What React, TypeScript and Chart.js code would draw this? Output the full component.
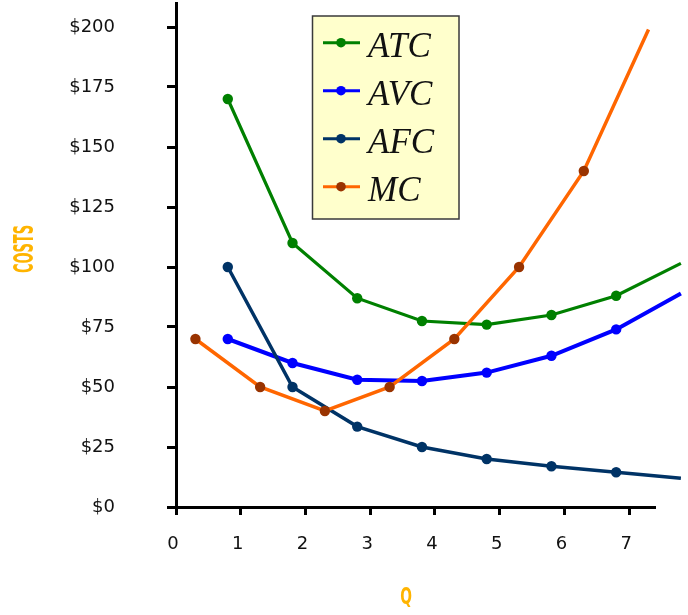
import React, { useEffect, useRef } from 'react';
import { Chart, registerables } from 'chart.js';

Chart.register(...registerables);

// Quantity positions of the average-cost points (last point is the unmarked line end)
const qAvg = [0.8, 1.8, 2.8, 3.8, 4.8, 5.8, 6.8, 7.8];
const atc = [170, 110, 87, 77.5, 76, 80, 88, 101.5];
const avc = [70, 60, 53, 52.5, 56, 63, 74, 89];
const afc = [100, 50, 33.5, 25, 20, 17, 14.5, 12];

// Marginal cost sits between the whole quantities
const qMc = [0.3, 1.3, 2.3, 3.3, 4.3, 5.3, 6.3, 7.3];
const mc = [70, 50, 40, 50, 70, 100, 140, 199];

const seriesNames = ['ATC', 'AVC', 'AFC', 'MC'];
const costTicks = [0, 25, 50, 75, 100, 125, 150, 175, 200];
const qTicks = [0, 1, 2, 3, 4, 5, 6, 7];

const yTitle = 'COSTS';
const xTitle = 'Q';

const TICK_FONT = { family: '"DejaVu Sans", Verdana, sans-serif', size: 18 };

function points(xs: number[], ys: number[]) {
  return xs.map((x, i) => ({ x, y: ys[i] }));
}

function markerRadii(xs: number[]) {
  return xs.map((_, i) => (i === xs.length - 1 ? 0 : 5.2));
}

// Yellow boxed legend with italic serif labels
const boxedLegend = {
  id: 'boxedLegend',
  afterDraw(chart: any) {
    const ctx = chart.ctx as CanvasRenderingContext2D;
    const box = { x: 312.5, y: 16, w: 146.5, h: 203 };
    ctx.save();
    ctx.fillStyle = '#FFFFCC';
    ctx.fillRect(box.x, box.y, box.w, box.h);
    ctx.strokeStyle = '#3a3a3a';
    ctx.lineWidth = 1.5;
    ctx.strokeRect(box.x, box.y, box.w, box.h);

    const datasets = chart.data.datasets;
    seriesNames.forEach((name, i) => {
      const ds = datasets.find((d: any) => d.label === name);
      if (!ds) return;
      const rowY = 42.7 + i * 48;
      ctx.strokeStyle = ds.borderColor;
      ctx.lineWidth = 3;
      ctx.beginPath();
      ctx.moveTo(323, rowY);
      ctx.lineTo(360, rowY);
      ctx.stroke();
      ctx.fillStyle = ds.pointBackgroundColor;
      ctx.beginPath();
      ctx.arc(341, rowY, 4.8, 0, Math.PI * 2);
      ctx.fill();
      ctx.fillStyle = '#111';
      ctx.font = 'italic 35px "Liberation Serif", "Times New Roman", serif';
      ctx.textAlign = 'left';
      ctx.textBaseline = 'alphabetic';
      ctx.fillText(name, 368, rowY + 14);
    });
    ctx.restore();
  },
};

// Condensed bold axis titles
const axisTitles = {
  id: 'axisTitles',
  afterDraw(chart: any) {
    const ctx = chart.ctx as CanvasRenderingContext2D;
    ctx.save();
    ctx.fillStyle = '#FFB400';
    ctx.textAlign = 'center';
    ctx.textBaseline = 'alphabetic';

    ctx.save();
    ctx.translate(23, 249);
    ctx.rotate(-Math.PI / 2);
    ctx.scale(0.48, 1);
    ctx.font = 'bold 27px "DejaVu Sans", sans-serif';
    ctx.fillText(yTitle, 0, 9.8);
    ctx.restore();

    ctx.save();
    ctx.translate(406, 604);
    ctx.scale(0.6, 1);
    ctx.font = 'bold 23px "DejaVu Sans", sans-serif';
    ctx.fillText(xTitle, 0, 0);
    ctx.restore();

    ctx.restore();
  },
};

export default function App() {
  const canvasRef = useRef<HTMLCanvasElement | null>(null);

  useEffect(() => {
    const canvas = canvasRef.current;
    if (!canvas) return;

    const lineDefaults = {
      tension: 0,
      borderWidth: 3.5,
      pointBorderWidth: 0,
      pointHoverRadius: 5,
      clip: false as const,
      fill: false,
    };

    const chart = new Chart(canvas, {
      type: 'line',
      data: {
        datasets: [
          {
            ...lineDefaults,
            label: 'ATC',
            data: points(qAvg, atc),
            borderColor: '#008000',
            backgroundColor: '#008000',
            pointBackgroundColor: '#008000',
            pointBorderColor: '#008000',
            pointRadius: markerRadii(qAvg),
            borderWidth: 3.2,
            order: 4,
          },
          {
            ...lineDefaults,
            label: 'AVC',
            data: points(qAvg, avc),
            borderColor: '#0000FF',
            backgroundColor: '#0000FF',
            pointBackgroundColor: '#0000FF',
            pointBorderColor: '#0000FF',
            pointRadius: markerRadii(qAvg),
            borderWidth: 4,
            order: 3,
          },
          {
            ...lineDefaults,
            label: 'AFC',
            data: points(qAvg, afc),
            borderColor: '#003366',
            backgroundColor: '#003366',
            pointBackgroundColor: '#003366',
            pointBorderColor: '#003366',
            pointRadius: markerRadii(qAvg),
            order: 2,
          },
          {
            ...lineDefaults,
            label: 'MC',
            data: points(qMc, mc),
            borderColor: '#FF6600',
            backgroundColor: '#FF6600',
            pointBackgroundColor: '#993300',
            pointBorderColor: '#993300',
            pointRadius: markerRadii(qMc),
            order: 1,
          },
        ],
      },
      options: {
        animation: false,
        responsive: false,
        devicePixelRatio: 1,
        events: [],
        layout: { autoPadding: false, padding: { left: 0, top: 3, right: 33, bottom: 0 } },
        plugins: {
          legend: { display: false },
          tooltip: { enabled: false },
          title: { display: false },
        },
        scales: {
          x: {
            type: 'linear',
            min: 0,
            max: 7.4,
            afterBuildTicks: (scale: any) => {
              scale.ticks = qTicks.map((v) => ({ value: v }));
            },
            afterFit: (scale: any) => {
              scale.height = 108;
              scale.paddingLeft = 0;
              scale.paddingRight = 0;
            },
            ticks: {
              font: TICK_FONT,
              color: '#111',
              padding: 19,
              labelOffset: -3,
              maxRotation: 0,
              autoSkip: false,
              callback: (v: any) => String(v),
            },
            grid: {
              display: true,
              drawOnChartArea: false,
              drawTicks: true,
              tickLength: 8,
              tickWidth: 3,
              tickColor: '#000',
            },
            border: { display: true, color: '#000', width: 3 },
          },
          y: {
            type: 'linear',
            min: 0,
            max: 210,
            afterBuildTicks: (scale: any) => {
              scale.ticks = costTicks.map((v) => ({ value: v }));
            },
            afterFit: (scale: any) => {
              scale.width = 176;
              scale.paddingTop = 0;
              scale.paddingBottom = 0;
            },
            ticks: {
              font: TICK_FONT,
              color: '#111',
              padding: 52,
              autoSkip: false,
              callback: (v: any) => '$' + v,
            },
            grid: {
              display: true,
              drawOnChartArea: false,
              drawTicks: true,
              tickLength: 9,
              tickWidth: 3,
              tickColor: '#000',
            },
            border: { display: true, color: '#000', width: 3 },
          },
        },
      },
      plugins: [boxedLegend, axisTitles],
    });

    return () => {
      chart.destroy();
    };
  }, []);

  return (
    <div style={{ position: 'absolute', left: 0, top: 0, width: 688, height: 615, background: '#fff' }}>
      <canvas ref={canvasRef} width={688} height={615} style={{ display: 'block' }} />
    </div>
  );
}
